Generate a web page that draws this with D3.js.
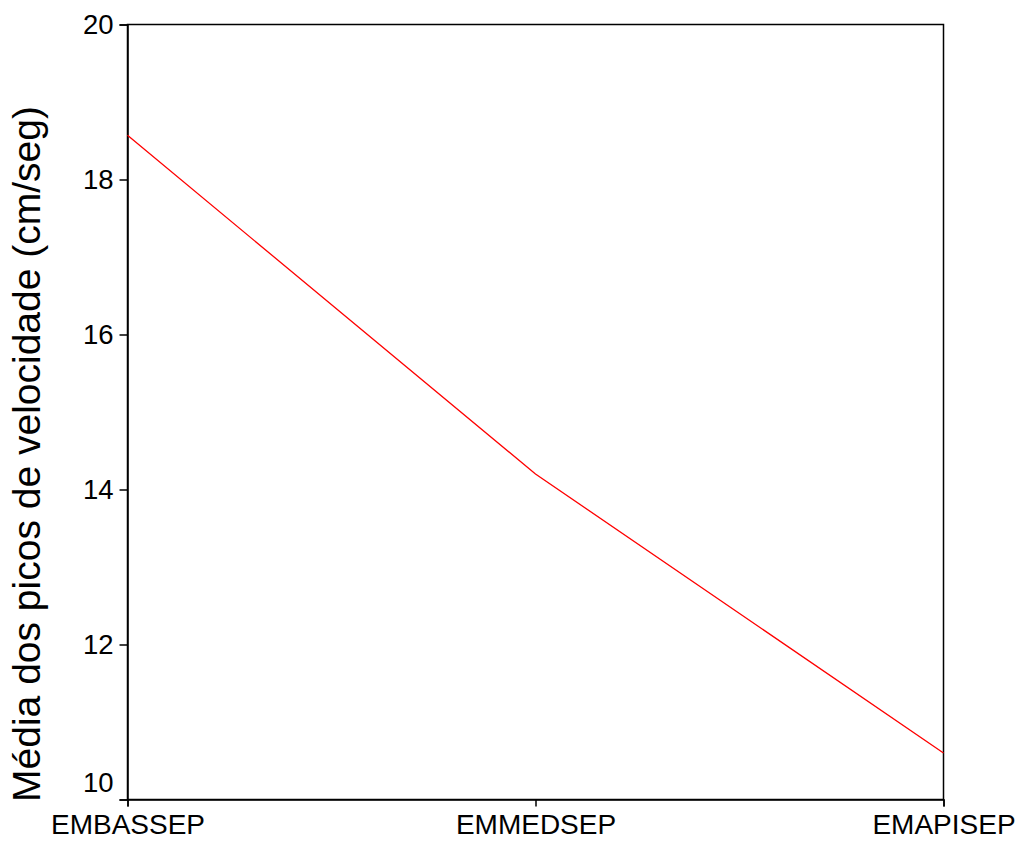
<!DOCTYPE html>
<html>
<head>
<meta charset="utf-8">
<script src="https://cdn.jsdelivr.net/npm/d3@7"></script>
<style>
  html, body { margin: 0; padding: 0; background: #fff; }
  svg { display: block; font-family: Arial, "Liberation Sans", sans-serif; }
</style>
</head>
<body>
<svg id="chart" width="1021" height="841"></svg>
<script>
const categories = ["EMBASSEP", "EMMEDSEP", "EMAPISEP"];
const values = [18.57, 14.20, 10.60];
const yTicks = [10, 12, 14, 16, 18, 20];
const yTitle = "Média dos picos de velocidade (cm/seg)";

const svg = d3.select("#chart");
const margin = { left: 127.5, right: 1021 - 943.5, top: 24.5, bottom: 841 - 799.5 };
const W = 1021, H = 841;

const x = d3.scalePoint().domain(categories).range([margin.left, W - margin.right]);
const y = d3.scaleLinear().domain([10, 20]).range([H - margin.bottom, margin.top]);

// frame
svg.append("rect")
  .attr("x", margin.left).attr("y", margin.top)
  .attr("width", W - margin.right - margin.left)
  .attr("height", H - margin.bottom - margin.top)
  .attr("fill", "none").attr("stroke", "#000").attr("stroke-width", 1.5);

// y axis
const yAxis = svg.append("g")
  .attr("transform", `translate(${margin.left},0)`)
  .call(d3.axisLeft(y).tickValues(yTicks).tickSize(8).tickPadding(6));
yAxis.select(".domain").attr("stroke-width", 1.5);
yAxis.selectAll(".tick line").attr("stroke-width", 1.5);
yAxis.selectAll("text").attr("font-size", 27.5).attr("fill", "#000")
  .attr("font-family", "Arial, 'Liberation Sans', sans-serif");
// lowest label is lifted above the x axis, as in the original
yAxis.selectAll(".tick").filter(d => d === yTicks[0]).select("text")
  .attr("transform", "translate(0,-17)");

// x axis
const xAxis = svg.append("g")
  .attr("transform", `translate(0,${H - margin.bottom})`)
  .call(d3.axisBottom(x).tickSize(7).tickPadding(8));
xAxis.select(".domain").attr("stroke-width", 1.5);
xAxis.selectAll(".tick line").attr("stroke-width", 1.5);
xAxis.selectAll("text").attr("font-size", 28).attr("fill", "#000")
  .attr("font-family", "Arial, 'Liberation Sans', sans-serif");

// line
const line = d3.line().x((d, i) => x(categories[i])).y(d => y(d));
svg.append("path")
  .datum(values)
  .attr("d", line)
  .attr("fill", "none")
  .attr("stroke", "#ff0000")
  .attr("stroke-width", 1.3);

// y title
svg.append("text")
  .attr("transform", `translate(40,${(margin.top + H - margin.bottom) / 2 + 42}) rotate(-90)`)
  .attr("text-anchor", "middle")
  .attr("font-size", 39)
  .attr("fill", "#000")
  .text(yTitle);
</script>
</body>
</html>
